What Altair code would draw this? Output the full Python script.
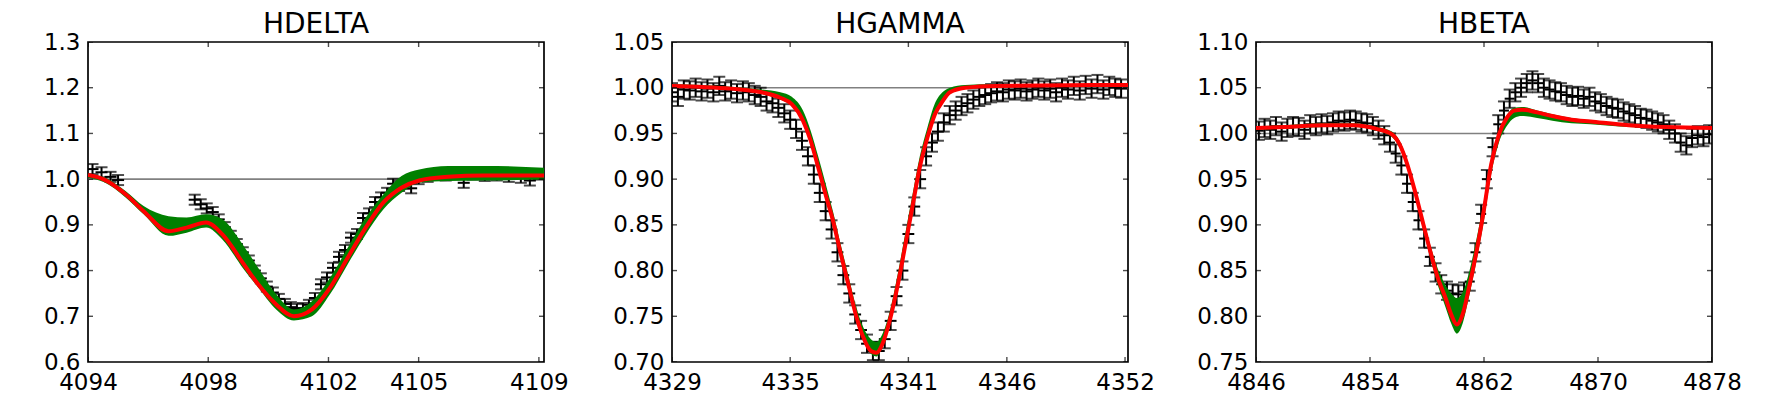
import altair as alt
import pandas as pd

# ---------------- HDELTA ----------------
hd_title = "HDELTA"
hd_xlim = [4094.0, 4109.17]
hd_xticks = [4094, 4098, 4102, 4105, 4109]
hd_yticks = [0.6, 0.7, 0.8, 0.9, 1.0, 1.1, 1.2, 1.3]
hd_wave = [4094.15, 4094.45, 4094.75, 4095.0, 4097.55, 4097.75, 4097.95, 4098.15, 4098.35, 4098.55,
           4098.75, 4098.95, 4099.15, 4099.35, 4099.55, 4099.75, 4099.95, 4100.15, 4100.35, 4100.55,
           4100.75, 4100.95, 4101.15, 4101.35, 4101.55, 4101.75, 4101.95, 4102.15, 4102.35, 4102.55,
           4102.75, 4102.95, 4103.15, 4103.35, 4103.55, 4103.75, 4103.95, 4104.15, 4104.35, 4104.55,
           4104.75, 4105.0, 4105.3, 4105.6, 4105.9, 4106.5, 4106.8, 4107.2, 4107.6, 4108.0,
           4108.4, 4108.7, 4109.0]
hd_flux = [1.022, 1.015, 1.005, 0.998, 0.955, 0.945, 0.936, 0.928, 0.912, 0.895,
           0.876, 0.858, 0.84, 0.822, 0.80, 0.783, 0.765, 0.752, 0.738, 0.727,
           0.72, 0.716, 0.718, 0.725, 0.74, 0.77, 0.785, 0.806, 0.83, 0.845,
           0.872, 0.88, 0.915, 0.925, 0.95, 0.96, 0.97, 0.99, 0.985, 0.99,
           0.98, 1.0, 1.005, 1.01, 1.008, 0.992, 1.01, 1.007, 1.008, 1.005,
           1.003, 0.997, 1.01]
hd_yerr = 0.011
hd_xerr = 0.2
hd_model_wave = [4094.0, 4094.54, 4095.25, 4095.85, 4096.68, 4097.28, 4097.93, 4098.47, 4099.18, 4099.66,
                 4100.26, 4100.85, 4101.45, 4102.05, 4102.64, 4103.24, 4103.83, 4104.43, 4105.02, 4105.98,
                 4107.17, 4109.17]
hd_model_best = [1.009, 0.999, 0.967, 0.93, 0.886, 0.894, 0.905, 0.879, 0.814, 0.77,
                 0.726, 0.70, 0.715, 0.762, 0.828, 0.894, 0.949, 0.981, 0.997, 1.005,
                 1.008, 1.008]
hd_model_hi = [1.012, 1.004, 0.974, 0.941, 0.919, 0.916, 0.923, 0.912, 0.854, 0.806,
               0.748, 0.715, 0.733, 0.784, 0.85, 0.916, 0.967, 1.007, 1.021, 1.029,
               1.029, 1.025]
hd_model_lo = [1.003, 0.993, 0.96, 0.923, 0.876, 0.883, 0.894, 0.868, 0.803, 0.763,
               0.715, 0.691, 0.70, 0.748, 0.814, 0.879, 0.934, 0.97, 0.992, 0.996,
               0.997, 0.999]

# ---------------- HGAMMA ----------------
hg_title = "HGAMMA"
hg_xlim = [4329.0, 4352.15]
hg_xticks = [4329, 4335, 4341, 4346, 4352]
hg_yticks = [0.70, 0.75, 0.80, 0.85, 0.90, 0.95, 1.00, 1.05]
hg_wave = [4329.0, 4329.3, 4329.6, 4329.9, 4330.2, 4330.5, 4330.8, 4331.1, 4331.4, 4331.7,
           4332.0, 4332.3, 4332.6, 4332.9, 4333.2, 4333.5, 4333.8, 4334.1, 4334.4, 4334.7,
           4335.0, 4335.3, 4335.6, 4335.9, 4336.2, 4336.5, 4336.8, 4337.1, 4337.4, 4337.7,
           4338.0, 4338.3, 4338.6, 4338.9, 4339.2, 4339.5, 4339.8, 4340.1, 4340.4, 4340.7,
           4341.0, 4341.3, 4341.6, 4341.9, 4342.2, 4342.5, 4342.8, 4343.1, 4343.4, 4343.7,
           4344.0, 4344.3, 4344.6, 4344.9, 4345.2, 4345.5, 4345.8, 4346.1, 4346.4, 4346.7,
           4347.0, 4347.3, 4347.6, 4347.9, 4348.2, 4348.5, 4348.8, 4349.1, 4349.4, 4349.7,
           4350.0, 4350.3, 4350.6, 4350.9, 4351.2, 4351.5, 4351.8]
hg_flux = [0.995, 0.99, 0.998, 0.997, 1.0, 0.996, 0.999, 0.995, 1.002, 0.996,
           0.998, 0.994, 0.997, 0.995, 0.992, 0.99, 0.985, 0.983, 0.978, 0.972,
           0.965, 0.955, 0.942, 0.925, 0.905, 0.885, 0.865, 0.845, 0.82, 0.795,
           0.775, 0.752, 0.735, 0.72, 0.712, 0.712, 0.725, 0.745, 0.772, 0.80,
           0.84, 0.87, 0.9, 0.925, 0.94, 0.952, 0.962, 0.97, 0.975, 0.98,
           0.983, 0.987, 0.99, 0.992, 0.994, 0.996, 0.995, 0.998, 0.997, 0.999,
           0.996, 0.998, 1.0, 0.997, 0.999, 0.995, 1.0, 0.998, 1.002, 0.997,
           1.003, 0.999, 1.004, 0.998, 1.002, 1.0, 0.999]
hg_yerr = 0.01
hg_xerr = 0.3
hg_model_wave = [4329.0, 4332.0, 4333.55, 4334.5, 4335.08, 4335.65, 4336.04, 4336.42, 4336.8, 4337.18,
                 4337.57, 4337.95, 4338.33, 4338.71, 4339.1, 4339.38, 4339.67, 4340.05, 4340.43, 4340.82,
                 4341.2, 4341.58, 4341.96, 4342.35, 4342.73, 4343.11, 4343.88, 4345.4, 4352.15]
hg_model_best = [1.002, 0.999, 0.995, 0.989, 0.982, 0.964, 0.942, 0.913, 0.883, 0.854,
                 0.818, 0.785, 0.752, 0.727, 0.712, 0.71, 0.719, 0.745, 0.781, 0.825,
                 0.869, 0.913, 0.945, 0.971, 0.985, 0.995, 1.0, 1.002, 1.003]
hg_model_hi = [1.004, 1.001, 0.998, 0.995, 0.99, 0.975, 0.953, 0.925, 0.895, 0.864,
               0.828, 0.795, 0.762, 0.738, 0.725, 0.722, 0.73, 0.755, 0.793, 0.838,
               0.882, 0.925, 0.956, 0.983, 0.995, 1.0, 1.003, 1.004, 1.004]
hg_model_lo = [1.0, 0.998, 0.993, 0.987, 0.98, 0.962, 0.94, 0.911, 0.881, 0.852,
               0.816, 0.783, 0.75, 0.725, 0.709, 0.706, 0.716, 0.742, 0.778, 0.822,
               0.866, 0.91, 0.942, 0.968, 0.982, 0.993, 0.999, 1.001, 1.002]

# ---------------- HBETA ----------------
hb_title = "HBETA"
hb_xlim = [4846.0, 4878.0]
hb_xticks = [4846, 4854, 4862, 4870, 4878]
hb_yticks = [0.75, 0.80, 0.85, 0.90, 0.95, 1.00, 1.05, 1.10]
hb_wave = [4846.2, 4846.6, 4847.0, 4847.4, 4847.8, 4848.2, 4848.6, 4849.0, 4849.4, 4849.8,
           4850.2, 4850.6, 4851.0, 4851.4, 4851.8, 4852.2, 4852.6, 4853.0, 4853.4, 4853.8,
           4854.2, 4854.6, 4855.0, 4855.4, 4855.8, 4856.2, 4856.6, 4857.0, 4857.4, 4857.8,
           4858.2, 4858.6, 4859.0, 4859.4, 4859.8, 4860.2, 4860.6, 4861.0, 4861.4, 4861.8,
           4862.2, 4862.6, 4863.0, 4863.4, 4863.8, 4864.2, 4864.6, 4865.0, 4865.4, 4865.8,
           4866.2, 4866.6, 4867.0, 4867.4, 4867.8, 4868.2, 4868.6, 4869.0, 4869.4, 4869.8,
           4870.2, 4870.6, 4871.0, 4871.4, 4871.8, 4872.2, 4872.6, 4873.0, 4873.4, 4873.8,
           4874.2, 4874.6, 4875.0, 4875.4, 4875.8, 4876.2, 4876.6, 4877.0, 4877.4, 4877.8]
hb_flux = [1.003, 1.006, 1.004, 1.008, 1.002, 1.006, 1.008, 1.007, 1.004, 1.01,
           1.008, 1.011, 1.009, 1.012, 1.014, 1.013, 1.015, 1.014, 1.012, 1.011,
           1.008, 1.004, 0.998, 0.99, 0.978, 0.965, 0.945, 0.925, 0.905, 0.885,
           0.865, 0.848, 0.835, 0.828, 0.825, 0.824, 0.827, 0.838, 0.87, 0.912,
           0.95, 0.985, 1.01, 1.025, 1.038, 1.045, 1.05, 1.055, 1.058, 1.055,
           1.05, 1.048, 1.046, 1.045, 1.042, 1.04, 1.041, 1.038, 1.04, 1.035,
           1.033, 1.03, 1.028, 1.027, 1.024, 1.022, 1.02, 1.017, 1.016, 1.014,
           1.012, 1.01, 1.004, 1.0, 0.99, 0.987, 0.995, 0.998, 0.996, 0.999]
hb_yerr = 0.01
hb_xerr = 0.35
hb_model_wave = [4846.0, 4848.04, 4850.7, 4852.86, 4854.47, 4855.54, 4856.08, 4856.62, 4857.15, 4857.69,
                 4858.23, 4858.76, 4859.3, 4859.7, 4860.1, 4860.5, 4860.9, 4861.44, 4861.98, 4862.5,
                 4863.05, 4863.6, 4864.12, 4864.66, 4865.73, 4866.8, 4868.14, 4869.48, 4872.16, 4874.84,
                 4878.0]
hb_model_best = [1.006, 1.007, 1.009, 1.009, 1.005, 0.999, 0.988, 0.966, 0.937, 0.904,
                 0.871, 0.842, 0.82, 0.802, 0.791, 0.802, 0.828, 0.868, 0.915, 0.966,
                 0.999, 1.017, 1.025, 1.026, 1.023, 1.019, 1.015, 1.013, 1.009, 1.007,
                 1.006]
hb_model_hi = [1.008, 1.009, 1.011, 1.011, 1.007, 1.002, 0.992, 0.971, 0.942, 0.91,
               0.878, 0.852, 0.834, 0.825, 0.82, 0.826, 0.845, 0.882, 0.925, 0.972,
               1.002, 1.02, 1.028, 1.029, 1.025, 1.021, 1.017, 1.014, 1.01, 1.008,
               1.007]
hb_model_lo = [1.004, 1.005, 1.007, 1.007, 1.003, 0.996, 0.984, 0.962, 0.932, 0.898,
               0.864, 0.834, 0.81, 0.792, 0.781, 0.792, 0.818, 0.858, 0.903, 0.955,
               0.99, 1.008, 1.017, 1.019, 1.017, 1.014, 1.011, 1.01, 1.007, 1.006,
               1.005]

continuum = [1.0]

FONT = "DejaVu Sans"
LABEL_SIZE = 23
TITLE_SIZE = 28
PLOT_W = 456
PLOT_H = 320
TICK_LEN = 10
BAR_W = 2


def panel(title, xlim, xticks, yticks, yfmt, wave, flux, yerr, xerr, mw, best, lo, hi):
    obs = pd.DataFrame({"w": wave, "f": flux})
    obs["f_lo"] = obs["f"] - yerr
    obs["f_hi"] = obs["f"] + yerr
    obs["w_lo"] = obs["w"] - xerr
    obs["w_hi"] = obs["w"] + xerr
    caps = pd.DataFrame({"w": list(obs["w"]) * 2,
                         "f": list(obs["f_lo"]) + list(obs["f_hi"])})
    mod = pd.DataFrame({"w": mw, "best": best, "lo": lo, "hi": hi})
    ymin, ymax = yticks[0], yticks[-1]
    xt = pd.DataFrame({"w": list(xticks) * 2,
                       "f": [ymin] * len(xticks) + [ymax] * len(xticks)})
    yt = pd.DataFrame({"w": [xlim[0]] * len(yticks) + [xlim[1]] * len(yticks),
                       "f": list(yticks) * 2})
    cont = pd.DataFrame({"f": continuum})

    xs = alt.Scale(domain=xlim, nice=False, zero=False)
    ys = alt.Scale(domain=[ymin, ymax], nice=False, zero=False)
    common = dict(title=None, grid=False, ticks=False, tickSize=0, domain=False,
                  labelFont=FONT, labelFontSize=LABEL_SIZE, labelColor="black",
                  labelOverlap=False)
    xaxis = alt.Axis(values=xticks, format="d", labelFlush=False, labelPadding=9, **common)
    yaxis = alt.Axis(values=yticks, format=yfmt, labelPadding=8, **common)

    def X(field):
        return alt.X(field + ":Q", scale=xs, axis=xaxis)

    def Y(field):
        return alt.Y(field + ":Q", scale=ys, axis=yaxis)

    layers = [
        alt.Chart(cont).mark_rule(color="#808080", strokeWidth=1.6).encode(y=Y("f")),
        alt.Chart(obs).mark_rule(color="black", strokeWidth=BAR_W, clip=True).encode(
            x=X("w"), y=Y("f_lo"), y2="f_hi"),
        alt.Chart(obs).mark_rule(color="black", strokeWidth=BAR_W, clip=True).encode(
            x=X("w_lo"), x2="w_hi", y=Y("f")),
        alt.Chart(caps).mark_tick(color="black", orient="horizontal", size=12,
                                  thickness=BAR_W, clip=True).encode(x=X("w"), y=Y("f")),
        alt.Chart(mod).mark_area(color="#008000", opacity=1, interpolate="monotone",
                                 clip=True).encode(x=X("w"), y=Y("lo"), y2="hi"),
        alt.Chart(mod).mark_line(color="#ff0000", strokeWidth=4, interpolate="monotone",
                                 clip=True).encode(x=X("w"), y=Y("best")),
        alt.Chart(xt).mark_tick(color="black", orient="vertical", size=TICK_LEN,
                                thickness=1.4, clip=True).encode(x=X("w"), y=Y("f")),
        alt.Chart(yt).mark_tick(color="black", orient="horizontal", size=TICK_LEN,
                                thickness=1.4, clip=True).encode(x=X("w"), y=Y("f")),
    ]
    return alt.layer(*layers).properties(
        width=PLOT_W, height=PLOT_H,
        title=alt.TitleParams(text=title, font=FONT, fontSize=TITLE_SIZE,
                              fontWeight="normal", color="black", anchor="middle",
                              frame="group", offset=-8),
    )


p1 = panel(hd_title, hd_xlim, hd_xticks, hd_yticks, ".1f", hd_wave, hd_flux, hd_yerr, hd_xerr,
           hd_model_wave, hd_model_best, hd_model_lo, hd_model_hi)
p2 = panel(hg_title, hg_xlim, hg_xticks, hg_yticks, ".2f", hg_wave, hg_flux, hg_yerr, hg_xerr,
           hg_model_wave, hg_model_best, hg_model_lo, hg_model_hi)
p3 = panel(hb_title, hb_xlim, hb_xticks, hb_yticks, ".2f", hb_wave, hb_flux, hb_yerr, hb_xerr,
           hb_model_wave, hb_model_best, hb_model_lo, hb_model_hi)

chart = alt.hconcat(p1, p2, p3, spacing=128, bounds="flush").configure_view(
    stroke="black", strokeWidth=1.7
).properties(padding={"left": 34, "top": 2, "right": 5, "bottom": 5}, background="white")

chart.save("out.html", embed_options={"renderer": "svg", "actions": False})
